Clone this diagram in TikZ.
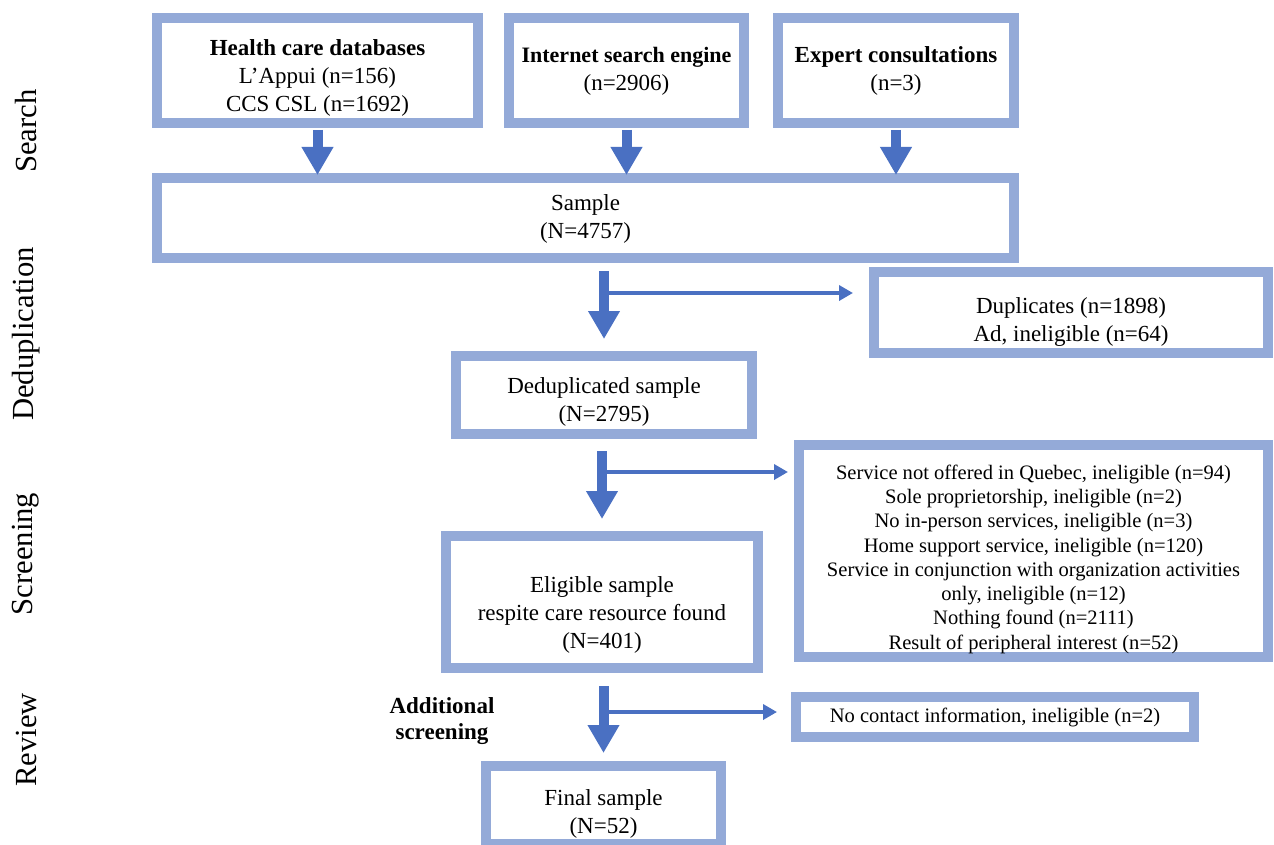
\documentclass[tikz,border=0pt]{standalone}
\usepackage{fontspec}
\setmainfont{Liberation Serif}
\usetikzlibrary{arrows.meta}
\definecolor{boxblue}{HTML}{94AAD8}
\definecolor{arrblue}{HTML}{4A70C2}
\newcommand\tdrop[1]{\rule{0pt}{#1}}
\tikzset{
  stage/.style={draw=boxblue, line width=7.5pt, fill=white, inner sep=0pt, align=center,
    text=black, font=\fontsize{17.25pt}{21pt}\selectfont},
  smallstage/.style={stage, font=\fontsize{15.4pt}{18.2pt}\selectfont},
  bigarrow/.style={draw=arrblue, line width=7.5pt, -{Triangle[length=21pt,width=22.5pt]}},
  sidearrow/.style={draw=arrblue, line width=2.6pt, -{Triangle[length=10.5pt,width=11.25pt]}},
  phase/.style={rotate=90, text=black, font=\fontsize{23pt}{27pt}\selectfont},
  sidenote/.style={align=center, text=black, font=\fontsize{17.25pt}{19pt}\selectfont\bfseries},
}
\begin{document}
\begin{tikzpicture}[x=0.75pt,y=-0.75pt]
\useasboundingbox (0,0) rectangle (1274,845);
\clip (0,0) rectangle (1274,845);
% phase labels
\node[phase] (lsearch) at (26,131) {Search};
\node[phase] (ldedup) at (26,334) {Deduplication};
\node[phase] (lscreen) at (26,554) {Screening};
\node[phase] (lreview) at (26,740) {Review};
% boxes
\node[stage, minimum width=240.75pt, minimum height=78.75pt] (b1) at (317.5,70.5)
  {\tdrop{23pt}\textbf{Health care databases}\\L’Appui (n=156)\\CCS CSL (n=1692)};
\node[stage, minimum width=176.25pt, minimum height=78.75pt] (b2) at (626.5,70.5)
  {\fontsize{16.5pt}{21pt}\selectfont\tdrop{13pt}\textbf{Internet search engine}\\(n=2906)};
\node[stage, minimum width=177pt, minimum height=78.75pt] (b3) at (896,70.5)
  {\tdrop{13pt}\textbf{Expert consultations}\\(n=3)};
\node[stage, minimum width=642.75pt, minimum height=60pt] (sample) at (585.5,218)
  {\tdrop{13pt}Sample\\(N=4757)};
\node[stage, minimum width=295.5pt, minimum height=60.75pt] (dup) at (1071,312.5)
  {\tdrop{26pt}Duplicates (n=1898)\\Ad, ineligible (n=64)};
\node[stage, minimum width=222pt, minimum height=58.5pt] (dedup) at (604,395)
  {\tdrop{23pt}Deduplicated sample\\(N=2795)};
\node[smallstage, minimum width=351.75pt, minimum height=159pt] (screen) at (1033.5,551)
  {\tdrop{23pt}Service not offered in Quebec, ineligible (n=94)\\
   Sole proprietorship, ineligible (n=2)\\
   No in-person services, ineligible (n=3)\\
   Home support service, ineligible (n=120)\\
   Service in conjunction with organization activities\\
   only, ineligible (n=12)\\
   Nothing found (n=2111)\\
   Result of peripheral interest (n=52)};
\node[stage, minimum width=234pt, minimum height=99pt] (elig) at (602,602)
  {\tdrop{31pt}Eligible sample\\respite care resource found\\(N=401)};
\node[smallstage, minimum width=298.5pt, minimum height=30pt] (nocontact) at (995,717)
  {No contact information, ineligible (n=2)};
\node[stage, minimum width=176.25pt, minimum height=58.5pt] (final) at (603.5,805)
  {\tdrop{25pt}Final sample\\(N=52)};
\node[sidenote] (addl) at (442,721) {Additional\\screening};
% helper coordinates
\coordinate (y1) at (0,293);
\coordinate (y2) at (0,472);
\coordinate (y3) at (0,712);
% search arrows
\draw[bigarrow] ([yshift=-1.5pt]b1.south) -- ([yshift=-1.5pt]b1.south |- sample.north);
\draw[bigarrow] ([yshift=-1.5pt]b2.south) -- ([yshift=-1.5pt]b2.south |- sample.north);
\draw[bigarrow] ([yshift=-1.5pt]b3.south) -- ([yshift=-1.5pt]b3.south |- sample.north);
% deduplication
\draw[bigarrow] ([yshift=-6pt]dedup.north |- sample.south) -- ([yshift=9pt]dedup.north);
\draw[sidearrow] (dedup.north |- y1) -- ([xshift=-12pt]dup.west |- y1);
% screening
\draw[bigarrow] ([yshift=-9pt]elig.north |- dedup.south) -- ([yshift=9pt]elig.north);
\draw[sidearrow] (elig.north |- y2) -- ([xshift=-4.5pt]screen.west |- y2);
% review
\draw[bigarrow] ([yshift=-9.75pt]final.north |- elig.south) -- ([yshift=6pt]final.north);
\draw[sidearrow] (final.north |- y3) -- ([xshift=-10.5pt]nocontact.west |- y3);
\end{tikzpicture}
\end{document}
